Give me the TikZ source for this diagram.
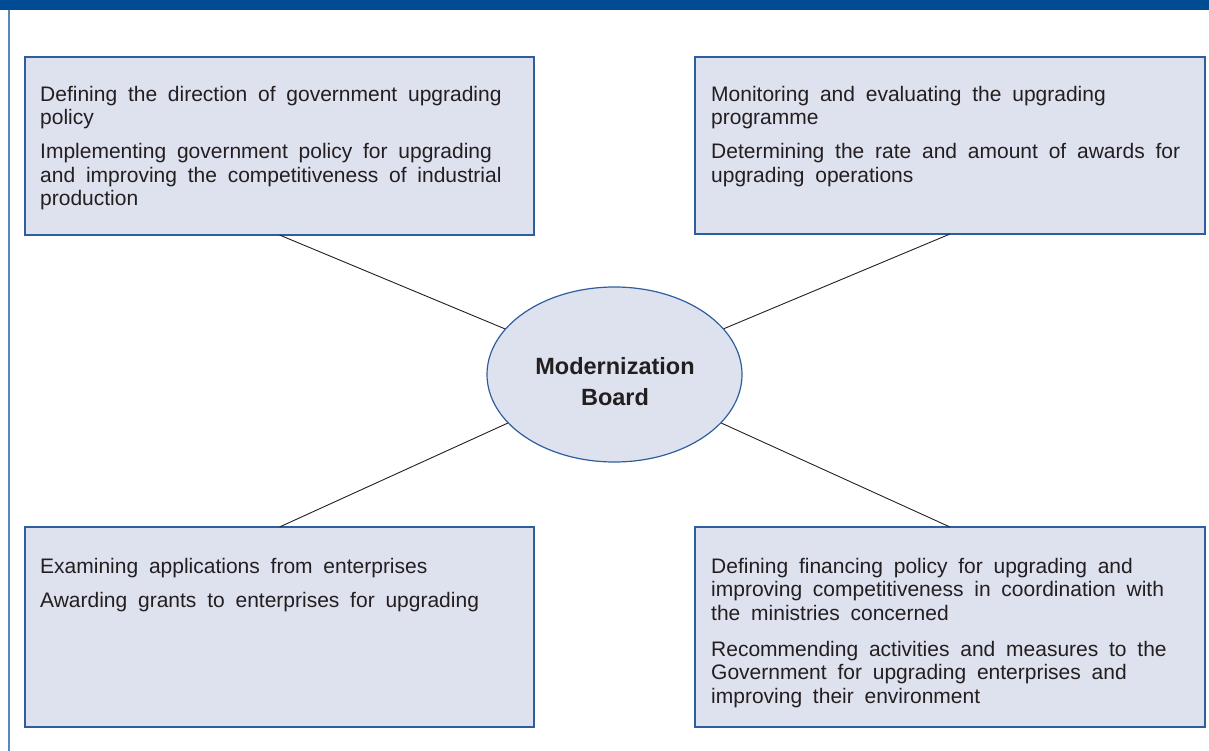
\documentclass[tikz,border=0pt]{standalone}
\usepackage{fontspec}
\setmainfont{Liberation Sans}
\newfontfamily\panelfont{Liberation Sans}[WordSpace={1.85,0,0}]
\usetikzlibrary{shapes.geometric}
\definecolor{barblue}{RGB}{0,76,148}
\definecolor{sideblue}{RGB}{90,134,190}
\definecolor{boxfill}{RGB}{222,225,238}
\definecolor{boxline}{RGB}{45,95,160}
\definecolor{txt}{RGB}{35,31,32}
\tikzset{
  panel/.style={draw=boxline, line width=1.3pt, fill=boxfill},
  paneltext/.style={anchor=north west, inner sep=0pt, align=left, text=txt,
    font=\panelfont\fontsize{21}{23.5}\selectfont},
  board/.style={ellipse, draw=boxline, line width=1.2pt, fill=boxfill,
    minimum width=255pt, minimum height=175pt, inner sep=0pt},
  boardtext/.style={align=center, inner sep=0pt, text=txt,
    font=\fontsize{23.5}{31}\selectfont\bfseries},
  link/.style={draw=txt, line width=0.9pt}
}
\begin{document}
\begin{tikzpicture}[x=1pt,y=-1pt]
\useasboundingbox (0,0) rectangle (1209,751);
\fill[barblue] (0,0) rectangle (1209,10);
\draw[sideblue, line width=2pt] (8.5,10) -- (8.5,751);

% panels
\path[panel] (25,57) rectangle (534,235);
\path[panel] (695,57) rectangle (1205,234);
\path[panel] (25,527) rectangle (534,727);
\path[panel] (695,527) rectangle (1205,727);
\coordinate (tl) at (279.5,235);
\coordinate (tr) at (950,234);
\coordinate (bl) at (279.5,527);
\coordinate (br) at (950,527);

\node[paneltext] (tlt) at (40,86) {Defining the direction of government upgrading\\
policy\\[10.5pt]
Implementing government policy for upgrading\\
and improving the competitiveness of industrial\\
production};
\node[paneltext] (trt) at (711,86) {Monitoring and evaluating the upgrading\\
programme\\[10.5pt]
Determining the rate and amount of awards for\\
upgrading operations};
\node[paneltext] (blt) at (40,558) {Examining applications from enterprises\\[10.5pt]
Awarding grants to enterprises for upgrading};
\node[paneltext] (brt) at (711,558) {Defining financing policy for upgrading and\\
improving competitiveness in coordination with\\
the ministries concerned\\[12.5pt]
Recommending activities and measures to the\\
Government for upgrading enterprises and\\
improving their environment};

\node[board] (mb) at (614.5,374.5) {};
\node[boardtext] (mbt) at (615,382) {Modernization\\Board};

\draw[link] (tl) -- (mb);
\draw[link] (tr) -- (mb);
\draw[link] (bl) -- (mb);
\draw[link] (br) -- (mb);
\end{tikzpicture}
\end{document}
